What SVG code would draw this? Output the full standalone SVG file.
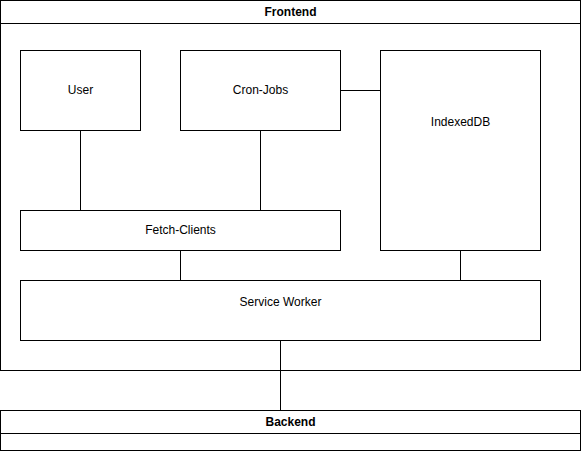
<svg xmlns="http://www.w3.org/2000/svg" width="582" height="452" viewBox="0 0 582 452">
<style>
.box{fill:#fff;stroke:#000;stroke-width:1}
.ln{fill:none;stroke:#000;stroke-width:1}
.t{font-family:"Liberation Sans",Arial,sans-serif;font-size:12px;fill:#000;text-anchor:middle;dominant-baseline:central}
.h{font-weight:bold}
</style>
<rect width="582" height="452" fill="#fff"/>
<g id="frontend">
<rect class="box" x="0.5" y="0.5" width="580" height="370"/>
<line class="ln" x1="0.5" y1="23.5" x2="580.5" y2="23.5"/>
<text class="t h" x="290.5" y="12">Frontend</text>
</g>
<g id="backend">
<rect class="box" x="0.5" y="410.5" width="580" height="40"/>
<line class="ln" x1="0.5" y1="433.5" x2="580.5" y2="433.5"/>
<text class="t h" x="290.5" y="422">Backend</text>
</g>
<g id="connectors">
<line class="ln" x1="80.5" y1="130.5" x2="80.5" y2="210.5"/>
<line class="ln" x1="260.5" y1="130.5" x2="260.5" y2="210.5"/>
<line class="ln" x1="340.5" y1="90.5" x2="380.5" y2="90.5"/>
<line class="ln" x1="180.5" y1="250.5" x2="180.5" y2="280.5"/>
<line class="ln" x1="460.5" y1="250.5" x2="460.5" y2="280.5"/>
<line class="ln" x1="280.5" y1="340.5" x2="280.5" y2="410.5"/>
</g>
<g id="user">
<rect class="box" x="20.5" y="50.5" width="120" height="80"/>
<text class="t" x="80.5" y="89.5">User</text>
</g>
<g id="cronjobs">
<rect class="box" x="180.5" y="50.5" width="160" height="80"/>
<text class="t" x="260.5" y="89.5">Cron-Jobs</text>
</g>
<g id="indexeddb">
<rect class="box" x="380.5" y="50.5" width="160" height="200"/>
<text class="t" x="460.5" y="121.5">IndexedDB</text>
</g>
<g id="fetchclients">
<rect class="box" x="20.5" y="210.5" width="320" height="40"/>
<text class="t" x="180.5" y="229.5">Fetch-Clients</text>
</g>
<g id="serviceworker">
<rect class="box" x="20.5" y="280.5" width="520" height="60"/>
<text class="t" x="280.5" y="301.5">Service Worker</text>
</g>
</svg>
